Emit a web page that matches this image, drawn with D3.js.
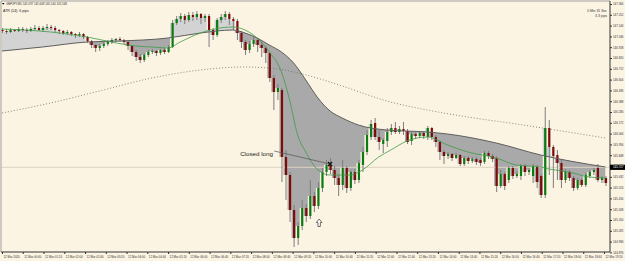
<!DOCTYPE html>
<html><head><meta charset="utf-8">
<script src="https://cdn.jsdelivr.net/npm/d3@7"></script>
<style>html,body{margin:0;padding:0;background:#fcf4e3;}svg{display:block;}</style>
</head><body><svg id="c" width="625" height="261"></svg>
<script>
// ---- data (GBPJPY, M5) ----
const open=[147.10,147.09,147.08,147.10,147.09,147.11,147.10,147.09,147.11,147.12,
147.10,147.12,147.13,147.12,147.10,147.09,147.07,147.08,147.06,147.05,
147.06,147.03,146.99,146.95,146.92,146.94,146.96,146.98,147.00,147.01,
147.00,146.98,146.94,146.88,146.83,146.80,146.85,146.88,146.89,146.87,
146.90,146.88,146.93,147.17,147.21,147.24,147.20,147.25,147.23,147.26,
147.22,147.24,147.10,147.05,147.20,147.23,147.26,147.21,147.19,147.07,
146.98,146.90,146.96,147.00,146.95,146.92,146.87,146.62,146.48,146.50,
145.83,145.65,145.30,145.02,145.14,145.32,145.24,145.44,145.34,145.52,
145.68,145.75,145.70,145.62,145.55,145.72,145.52,145.68,145.60,145.75,
145.88,146.03,146.17,146.03,145.96,145.99,146.08,146.12,146.08,146.11,
146.09,145.99,146.06,146.04,146.07,146.03,146.12,146.03,145.98,145.88,
145.84,145.86,145.82,145.85,145.76,145.82,145.79,145.81,145.80,145.78,
145.87,145.84,145.82,145.54,145.66,145.60,145.72,145.64,145.64,145.74,
145.68,145.64,145.73,145.64,145.45,146.12,145.93,145.85,145.77,145.60,
145.68,145.62,145.52,145.60,145.55,145.64,145.68,145.72,145.60,145.62];
const close=[147.09,147.08,147.10,147.09,147.11,147.10,147.09,147.11,147.12,147.10,
147.12,147.13,147.12,147.10,147.09,147.07,147.08,147.06,147.05,147.06,
147.03,146.99,146.95,146.92,146.94,146.96,146.98,147.00,147.01,147.00,
146.98,146.94,146.88,146.83,146.80,146.85,146.88,146.89,146.87,146.90,
146.88,146.93,147.17,147.21,147.24,147.20,147.25,147.23,147.26,147.22,
147.24,147.10,147.05,147.20,147.23,147.26,147.21,147.19,147.07,146.98,
146.90,146.96,147.00,146.95,146.92,146.87,146.62,146.48,146.52,145.83,
145.65,145.30,145.02,145.14,145.32,145.24,145.44,145.34,145.52,145.68,
145.75,145.70,145.62,145.55,145.72,145.52,145.68,145.60,145.77,145.88,
146.05,146.16,146.03,145.98,146.00,146.08,146.12,146.08,146.11,146.09,
145.98,146.06,146.04,146.07,146.04,146.12,146.03,145.98,145.88,145.84,
145.86,145.82,145.85,145.76,145.82,145.79,145.81,145.78,145.77,145.87,
145.84,145.81,145.54,145.66,145.54,145.72,145.64,145.66,145.74,145.68,
145.70,145.74,145.58,145.45,146.12,145.93,145.84,145.77,145.60,145.68,
145.62,145.52,145.60,145.55,145.65,145.68,145.70,145.60,145.62,145.57];
const high=[147.12,147.11,147.12,147.11,147.13,147.13,147.12,147.13,147.15,147.14,
147.14,147.16,147.15,147.14,147.11,147.10,147.10,147.09,147.07,147.08,
147.07,147.04,147.00,146.96,146.96,146.98,147.00,147.02,147.02,147.03,
147.01,146.99,146.95,146.90,146.86,146.87,146.90,146.91,146.90,146.91,
146.92,146.95,147.20,147.24,147.27,147.26,147.28,147.28,147.29,147.27,
147.26,147.26,147.12,147.22,147.26,147.29,147.28,147.23,147.21,147.09,
147.00,146.99,147.03,147.02,146.98,146.94,146.88,146.65,146.56,146.52,
145.90,145.68,145.35,145.18,145.40,145.36,145.60,145.48,145.58,145.72,
145.80,145.82,145.74,145.65,145.80,145.74,145.70,145.71,145.80,145.93,
146.10,146.20,146.22,146.10,146.02,146.12,146.16,146.18,146.14,146.18,
146.11,146.08,146.08,146.09,146.09,146.14,146.13,146.05,146.00,145.90,
145.88,145.87,145.87,145.86,145.84,145.84,145.83,145.83,145.82,145.89,
145.89,145.86,145.84,145.70,145.68,145.74,145.74,145.69,145.76,145.76,
145.72,145.76,145.75,145.66,146.33,146.20,145.95,145.90,145.80,145.71,
145.70,145.64,145.62,145.62,145.67,145.70,145.72,145.76,145.64,145.64];
const low=[147.07,147.06,147.07,147.08,147.08,147.08,147.07,147.08,147.10,147.09,
147.08,147.10,147.10,147.08,147.06,147.05,147.05,147.04,147.02,147.03,
147.01,146.97,146.92,146.88,146.89,146.92,146.94,146.96,146.98,146.98,
146.96,146.90,146.84,146.79,146.77,146.78,146.83,146.86,146.84,146.85,
146.86,146.87,146.92,147.15,147.18,147.16,147.18,147.19,147.20,147.16,
147.18,146.93,147.00,147.03,147.17,147.20,147.15,147.10,147.00,146.92,
146.85,146.87,146.93,146.88,146.83,146.77,146.58,146.30,146.40,145.58,
145.40,145.18,144.93,144.95,145.10,145.18,145.21,145.28,145.31,145.48,
145.64,145.66,145.55,145.44,145.50,145.47,145.49,145.56,145.57,145.68,
145.85,146.00,146.00,145.90,145.87,145.93,146.05,146.06,146.06,146.05,
145.96,145.95,146.01,146.02,146.01,146.00,146.00,145.93,145.80,145.76,
145.81,145.79,145.81,145.74,145.74,145.76,145.77,145.75,145.74,145.76,
145.81,145.78,145.48,145.52,145.50,145.57,145.61,145.62,145.60,145.64,
145.65,145.57,145.52,145.42,145.42,145.65,145.52,145.60,145.52,145.57,
145.59,145.49,145.50,145.53,145.53,145.62,145.65,145.58,145.57,145.54];

// moving averages read at bar indices
const maIdx=[0,10,21,29,41,49,57,60,63,66,69,72,75,78,81,84,88,95,105,110,122,133,149];
const maVal=[146.89,146.93,146.98,146.99,147.02,147.07,147.10,147.07,147.02,146.95,146.88,146.77,146.60,146.42,146.29,146.22,146.15,146.10,146.08,146.06,145.97,145.85,145.73];
const fastIdx=[0,12,21,27,33,37,41,44,49,57,60,63,66,69,71,73,75,78,81,86,89,93,96,100,105,110,115,122,127,133,135,140,145,149];
const fastVal=[147.11,147.08,147.03,146.98,146.94,146.93,146.92,146.98,147.07,147.13,147.10,147.02,146.88,146.68,146.40,146.05,145.88,145.70,145.65,145.65,145.70,145.83,145.90,145.99,146.03,145.95,145.88,145.82,145.75,145.73,145.71,145.68,145.63,145.62];
const slowIdx=[0,12,25,37,49,60,68,76,84,95,105,115,127,135,149];
const slowVal=[146.27,146.37,146.50,146.62,146.70,146.73,146.71,146.64,146.54,146.39,146.30,146.23,146.16,146.11,146.02];

const priceTicks=[147.360,147.252,147.144,147.036,146.928,146.820,146.712,146.604,146.496,146.388,146.280,146.172,146.064,145.956,145.848,145.740,145.632,145.524,145.416,145.308,145.200,145.092,144.984,144.876];
const timeLabels=["12 Mar 2020","12 Mar 00:40","12 Mar 01:20","12 Mar 02:00","12 Mar 02:40","12 Mar 03:20","12 Mar 04:00","12 Mar 04:40","12 Mar 05:20","12 Mar 06:00","12 Mar 06:40","12 Mar 07:20","12 Mar 08:00","12 Mar 08:40","12 Mar 09:20","12 Mar 10:00","12 Mar 10:40","12 Mar 11:20","12 Mar 12:00","12 Mar 12:40","12 Mar 13:20","12 Mar 14:00","12 Mar 14:40","12 Mar 15:20","12 Mar 16:00","12 Mar 16:40","12 Mar 17:20","12 Mar 18:00","12 Mar 18:40","12 Mar 19:20"];
const levelPrice=145.727;
const header="GBPJPY,M5  145.597 145.608 145.544 145.568";
const atrText="ATR (14): 6 pips";
const timerText=["0 Min 31 Sec","3.3 pips"];
const closeMark={i:81,p:145.76};
const closeLabel={i:58.8,p:145.84,text:"Closed long"};
const lineStart={i:67.2,p:145.89};
const buyArrow={i:78.3,p:145.21};

// ---- drawing ----
const W=625,H=261,R=610,B=252;
const svg=d3.select("#c");
const font="'Liberation Sans',Arial,sans-serif";
const x=d3.scaleLinear().domain([0,close.length-1]).range([2,605.5]);
const y=d3.scaleLinear().domain([147.36,144.876]).range([4,252.4]);
const bars=close.map((c,i)=>({i,o:open[i],h:high[i],l:low[i],c}));
const ma=maIdx.map((i,k)=>({i,v:maVal[k]}));
const fast=fastIdx.map((i,k)=>({i,v:fastVal[k]}));
const slow=slowIdx.map((i,k)=>({i,v:slowVal[k]}));

const defs=svg.append("defs");
defs.append("clipPath").attr("id","plot").append("rect").attr("x",1).attr("y",1).attr("width",R-1).attr("height",B-1);
defs.append("clipPath").attr("id","above").append("path")
  .attr("d",d3.area().x(d=>x(d.i)).y0(0).y1(d=>y(d.v)).curve(d3.curveMonotoneX)(ma));
defs.append("clipPath").attr("id","below").append("path")
  .attr("d",d3.area().x(d=>x(d.i)).y0(d=>y(d.v)).y1(H).curve(d3.curveMonotoneX)(ma));

const g=svg.append("g").attr("clip-path","url(#plot)");
// band between MA and price
g.append("path").attr("clip-path","url(#above)").attr("fill","#d3d3d3")
  .attr("d",d3.area().x(d=>x(d.i)).y0(d=>y(d.c)).y1(H).curve(d3.curveStep)(bars));
g.append("path").attr("clip-path","url(#below)").attr("fill","#a9a9a9")
  .attr("d",d3.area().x(d=>x(d.i)).y0(0).y1(d=>y(d.c)).curve(d3.curveStep)(bars));

// level line
g.append("line").attr("x1",1).attr("x2",R).attr("y1",y(levelPrice)).attr("y2",y(levelPrice))
  .attr("stroke","#dcd2c1").attr("stroke-width",1);

// slow dotted MA
g.append("path").attr("fill","none").attr("stroke","#6a6a6a").attr("stroke-width",0.8)
  .attr("stroke-dasharray","1,2")
  .attr("d",d3.line().x(d=>x(d.i)).y(d=>y(d.v)).curve(d3.curveMonotoneX)(slow));

// candles
g.selectAll(".w").data(bars).join("line")
  .attr("x1",d=>x(d.i)+0.5).attr("x2",d=>x(d.i)+0.5)
  .attr("y1",d=>y(d.h)).attr("y2",d=>y(d.l))
  .attr("stroke","#7d7d7d").attr("stroke-width",1);
g.selectAll(".b").data(bars).join("rect")
  .attr("x",d=>x(d.i)-0.6).attr("width",2.2)
  .attr("y",d=>Math.min(y(d.o),y(d.c)))
  .attr("height",d=>Math.max(0.8,Math.abs(y(d.o)-y(d.c))))
  .attr("fill",d=>d.c>=d.o?"#0c7a12":"#7e0a0a");

// MA lines
g.append("path").attr("fill","none").attr("stroke","#5e5e5e").attr("stroke-width",1)
  .attr("d",d3.line().x(d=>x(d.i)).y(d=>y(d.v)).curve(d3.curveMonotoneX)(ma));
g.append("path").attr("fill","none").attr("stroke","#3f9a45").attr("stroke-width",0.8)
  .attr("d",d3.line().x(d=>x(d.i)).y(d=>y(d.v)).curve(d3.curveMonotoneX)(fast));

// annotations
g.append("line").attr("x1",x(lineStart.i)).attr("y1",y(lineStart.p))
  .attr("x2",x(closeMark.i)).attr("y2",y(closeMark.p)).attr("stroke","#555").attr("stroke-width",0.7);
const cx=x(closeMark.i),cy=y(closeMark.p);
g.append("path").attr("d",`M${cx-2},${cy-2}L${cx+2},${cy+2}M${cx+2},${cy-2}L${cx-2},${cy+2}`)
  .attr("stroke","#111").attr("stroke-width",1.2);
g.append("text").attr("x",x(closeLabel.i)).attr("y",y(closeLabel.p))
  .attr("font-family",font).attr("font-size",6.2).attr("fill","#222").text(closeLabel.text);
const ax=x(buyArrow.i),ay=y(buyArrow.p);
g.append("path").attr("d",`M${ax},${ay}L${ax+2.8},${ay+3.5}L${ax+1.2},${ay+3.5}L${ax+1.2},${ay+7.5}L${ax-1.2},${ay+7.5}L${ax-1.2},${ay+3.5}L${ax-2.8},${ay+3.5}Z`)
  .attr("fill","#fff").attr("stroke","#333").attr("stroke-width",0.7);

// frame
svg.append("path").attr("d",`M1,${B}V1H${R}`).attr("fill","none").attr("stroke","#a0a0a0").attr("stroke-width",1);
svg.append("path").attr("d",`M${R},1V${B}H1`).attr("fill","none").attr("stroke","#333").attr("stroke-width",1);

// price axis
const ya=svg.append("g").attr("transform",`translate(${R},0)`)
  .call(d3.axisRight(y).tickValues(priceTicks).tickSize(2).tickSizeOuter(0).tickFormat(d3.format(".3f")));
ya.select(".domain").remove();
ya.selectAll("line").attr("stroke","#333");
ya.selectAll("text").attr("x",3).attr("font-family",font).attr("font-size",2.9).attr("fill","#333");
// level price box
svg.append("rect").attr("x",R).attr("y",y(levelPrice)-2.6).attr("width",15).attr("height",5.2).attr("fill","#000");
svg.append("text").attr("x",R+3).attr("y",y(levelPrice)+1).attr("font-family",font).attr("font-size",2.9)
  .attr("fill","#fff").text(levelPrice.toFixed(3));

// time axis
const tx=d3.scaleLinear().domain([0,timeLabels.length-1]).range([2,604]);
const xa=svg.append("g").attr("transform",`translate(0,${B})`)
  .call(d3.axisBottom(tx).tickValues(d3.range(timeLabels.length)).tickSize(2).tickSizeOuter(0).tickFormat(i=>timeLabels[i]));
xa.select(".domain").remove();
xa.selectAll("line").attr("stroke","#333");
xa.selectAll("text").attr("text-anchor","start").attr("dx",1).attr("y",3.5).attr("font-family",font).attr("font-size",2.9).attr("fill","#333");

// header texts
svg.append("path").attr("d","M2,3L4.5,3L3.25,4.8Z").attr("fill","#000");
svg.append("text").attr("x",6).attr("y",5).attr("font-family",font).attr("font-size",2.9).attr("fill","#333").text(header);
svg.append("text").attr("x",3).attr("y",12).attr("font-family",font).attr("font-size",3.6).attr("fill","#222").text(atrText);
svg.selectAll(".tm").data(timerText).join("text")
  .attr("x",607).attr("y",(d,k)=>12+k*5).attr("text-anchor","end")
  .attr("font-family",font).attr("font-size",3.4).attr("fill","#333").text(d=>d);
</script></body></html>
